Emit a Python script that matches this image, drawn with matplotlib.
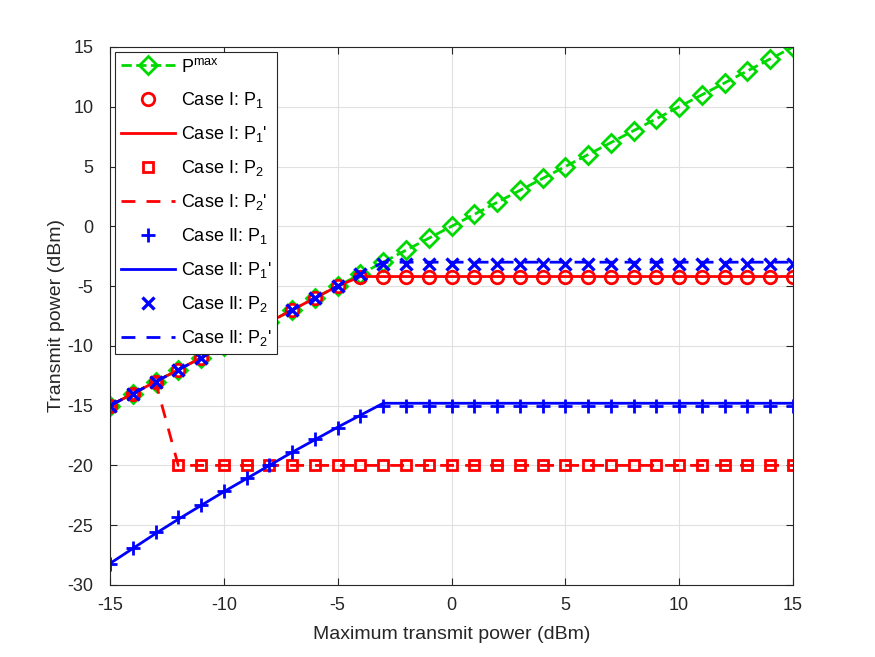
import numpy as np
import matplotlib
matplotlib.use("Agg")
import matplotlib.pyplot as plt

plt.rcParams['font.family'] = ['Liberation Sans', 'DejaVu Sans']
plt.rcParams['mathtext.fontset'] = 'custom'
plt.rcParams['mathtext.rm'] = 'Liberation Sans'
plt.rcParams['mathtext.it'] = 'Liberation Sans'
plt.rcParams['axes.unicode_minus'] = False

x = list(range(-15, 16))
p_max = [float(v) for v in x]

case1_p1 = [-15, -14, -13, -12, -11, -10, -9, -8, -7, -6, -5] + [-4.2] * 20
case1_p2 = [-15, -14, -13] + [-20.0] * 28

case2_p1_marks = [-28.25, -26.9, -25.6, -24.35, -23.3, -22.1, -21.06, -19.95, -18.85,
                  -17.8, -16.83, -15.83, -15.02] + [-15.05] * 18
case2_p1_line = [-28.2, -26.95, -25.7, -24.5, -23.35, -22.2, -21.1, -20.0, -18.9,
                 -17.85, -16.8, -15.8, -14.8] + [-14.8] * 18

case2_p2_marks = [-15, -14, -13, -12, -11, -10, -9, -8, -7, -6, -5, -4] + [-3.15] * 19
case2_p2_line = [-15, -14, -13, -12, -11, -10, -9, -8, -7, -6, -5, -4] + [-3.0] * 19

labels = [r"P$^{\mathrm{max}}$", r"Case I: P$_1$", r"Case I: P$_1$'",
          r"Case I: P$_2$", r"Case I: P$_2$'", r"Case II: P$_1$",
          r"Case II: P$_1$'", r"Case II: P$_2$", r"Case II: P$_2$'"]

green = (0.0, 0.85, 0.0)
red = (1.0, 0.0, 0.0)
blue = (0.0, 0.0, 1.0)
dark = (0.15, 0.15, 0.15)

fig = plt.figure(figsize=(8.75, 6.57), dpi=100)
ax = fig.add_axes([0.1257, 0.1096, 0.7806, 0.8189])

lw = 2.0
ms = 9
mew = 2.0

ax.plot(x, p_max, '--', color=green, lw=lw, marker='D', ms=ms, mfc='none', mew=mew, label=labels[0])
ax.plot(x, case1_p1, 'o', color=red, ms=ms, mfc='none', mew=mew, label=labels[1])
ax.plot(x, case1_p1, '-', color=red, lw=lw, label=labels[2])
ax.plot(x, case1_p2, 's', color=red, ms=7, mfc='none', mew=mew, label=labels[3])
ax.plot(x, case1_p2, '--', color=red, lw=lw, dashes=(5, 4), label=labels[4])
ax.plot(x, case2_p1_marks, '+', color=blue, ms=10, mew=2.0, label=labels[5])
ax.plot(x, case2_p1_line, '-', color=blue, lw=lw, label=labels[6])
ax.plot(x, case2_p2_marks, 'x', color=blue, ms=8, mew=2.4, label=labels[7])
ax.plot(x, case2_p2_line, '--', color=blue, lw=lw, dashes=(5, 4), label=labels[8])

ax.set_xlim(-15, 15)
ax.set_ylim(-30, 15)
ax.set_xticks(range(-15, 16, 5))
ax.set_yticks(range(-30, 16, 5))
ax.grid(True, color=(0.88, 0.88, 0.88), lw=0.8)
ax.set_axisbelow(True)
for s in ax.spines.values():
    s.set_color(dark)
    s.set_linewidth(0.8)
ax.tick_params(direction='in', top=True, right=True, labelsize=13,
               colors=dark, length=5)
ax.tick_params(axis='x', pad=9)
ax.tick_params(axis='y', pad=12)
ax.set_xlabel('Maximum transmit power (dBm)', fontsize=14, color=dark, labelpad=8)
ax.set_ylabel('Transmit power (dBm)', fontsize=14, color=dark, labelpad=2)

leg = ax.legend(loc='upper left', fontsize=13, fancybox=False, framealpha=1,
                edgecolor=dark, borderaxespad=0.3, handlelength=3.0,
                labelspacing=0.78, handletextpad=0.35, borderpad=0.3)
leg.get_frame().set_linewidth(0.8)

fig.savefig('out.png', dpi=100)
